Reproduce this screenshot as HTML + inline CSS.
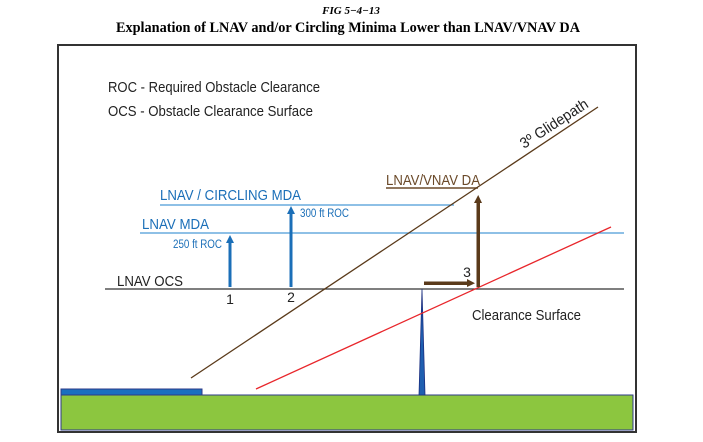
<!DOCTYPE html>
<html><head><meta charset="utf-8"><style>
body{margin:0;background:#fff;width:703px;height:442px;overflow:hidden}
svg{display:block}
.s{font-family:"Liberation Sans",sans-serif}
</style></head><body>
<svg width="703" height="442" viewBox="0 0 703 442">
<text x="351" y="14" text-anchor="middle" font-family="Liberation Serif" font-style="italic" font-weight="bold" font-size="11">FIG 5−4−13</text>
<text x="116" y="32" textLength="464" lengthAdjust="spacingAndGlyphs" font-family="Liberation Serif" font-weight="bold" font-size="14.5">Explanation of LNAV and/or Circling Minima Lower than LNAV/VNAV DA</text>
<rect x="58" y="45" width="578" height="387" fill="none" stroke="#333" stroke-width="2"/>
<g class="s" fill="#222" font-size="15">
<text x="108" y="92" textLength="212" lengthAdjust="spacingAndGlyphs">ROC - Required Obstacle Clearance</text>
<text x="108" y="116" textLength="205" lengthAdjust="spacingAndGlyphs">OCS - Obstacle Clearance Surface</text>
</g>
<rect x="61" y="395" width="572" height="35" fill="#8cc63f" stroke="#2e3a87" stroke-width="1"/>
<rect x="61" y="389" width="141" height="6" fill="#1a6fbf" stroke="#2e3a87" stroke-width="1"/>
<line x1="105" y1="289" x2="624" y2="289" stroke="#333" stroke-width="1.2"/>
<line x1="140" y1="233" x2="624" y2="233" stroke="#4a9ad8" stroke-width="1.2"/>
<line x1="160" y1="205" x2="454" y2="205" stroke="#4a9ad8" stroke-width="1.2"/>
<line x1="386" y1="188" x2="478" y2="188" stroke="#6b4a2a" stroke-width="1.5"/>
<polygon points="419,395 422,289 425,395" fill="#1f5fb0" stroke="#1a2e80" stroke-width="0.8"/>
<line x1="191" y1="378" x2="598" y2="107" stroke="#5a3a1a" stroke-width="1.3"/>
<line x1="256" y1="389" x2="611" y2="227" stroke="#e8262b" stroke-width="1.3"/>
<g fill="#1b6fb8">
<rect x="228.5" y="242" width="3" height="45"/><polygon points="226,243 230,235 234,243"/>
<rect x="289.5" y="213" width="3" height="74"/><polygon points="287,214 291,206 295,214"/>
</g>
<g fill="#5a3a1a">
<rect x="476.5" y="202" width="3.5" height="85"/><polygon points="474,203 478.2,195 482,203"/>
<rect x="424" y="281.5" width="44" height="3.5"/><polygon points="467,279 475,283.2 467,287"/>
</g>
<g class="s" fill="#1b6fb8">
<text x="160" y="200" font-size="15" textLength="141" lengthAdjust="spacingAndGlyphs">LNAV / CIRCLING MDA</text>
<text x="142" y="229" font-size="15" textLength="67" lengthAdjust="spacingAndGlyphs">LNAV MDA</text>
<text x="173" y="248" font-size="11.5" textLength="49" lengthAdjust="spacingAndGlyphs">250 ft ROC</text>
<text x="300" y="217" font-size="11.5" textLength="49" lengthAdjust="spacingAndGlyphs">300 ft ROC</text>
</g>
<g class="s" fill="#222">
<text x="117" y="286" font-size="15" textLength="66" lengthAdjust="spacingAndGlyphs">LNAV OCS</text>
<text x="230" y="304" font-size="14" text-anchor="middle">1</text>
<text x="291" y="302" font-size="14" text-anchor="middle">2</text>
<text x="467" y="277" font-size="14" text-anchor="middle">3</text>
<text x="472" y="320" font-size="15" textLength="109" lengthAdjust="spacingAndGlyphs">Clearance Surface</text>
<text x="386" y="185" font-size="15" fill="#6b4a2a" textLength="94" lengthAdjust="spacingAndGlyphs">LNAV/VNAV DA</text>
<text x="0" y="0" font-size="15" textLength="78" lengthAdjust="spacingAndGlyphs" transform="translate(524,149) rotate(-33)">3º Glidepath</text>
</g>
</svg>
</body></html>
